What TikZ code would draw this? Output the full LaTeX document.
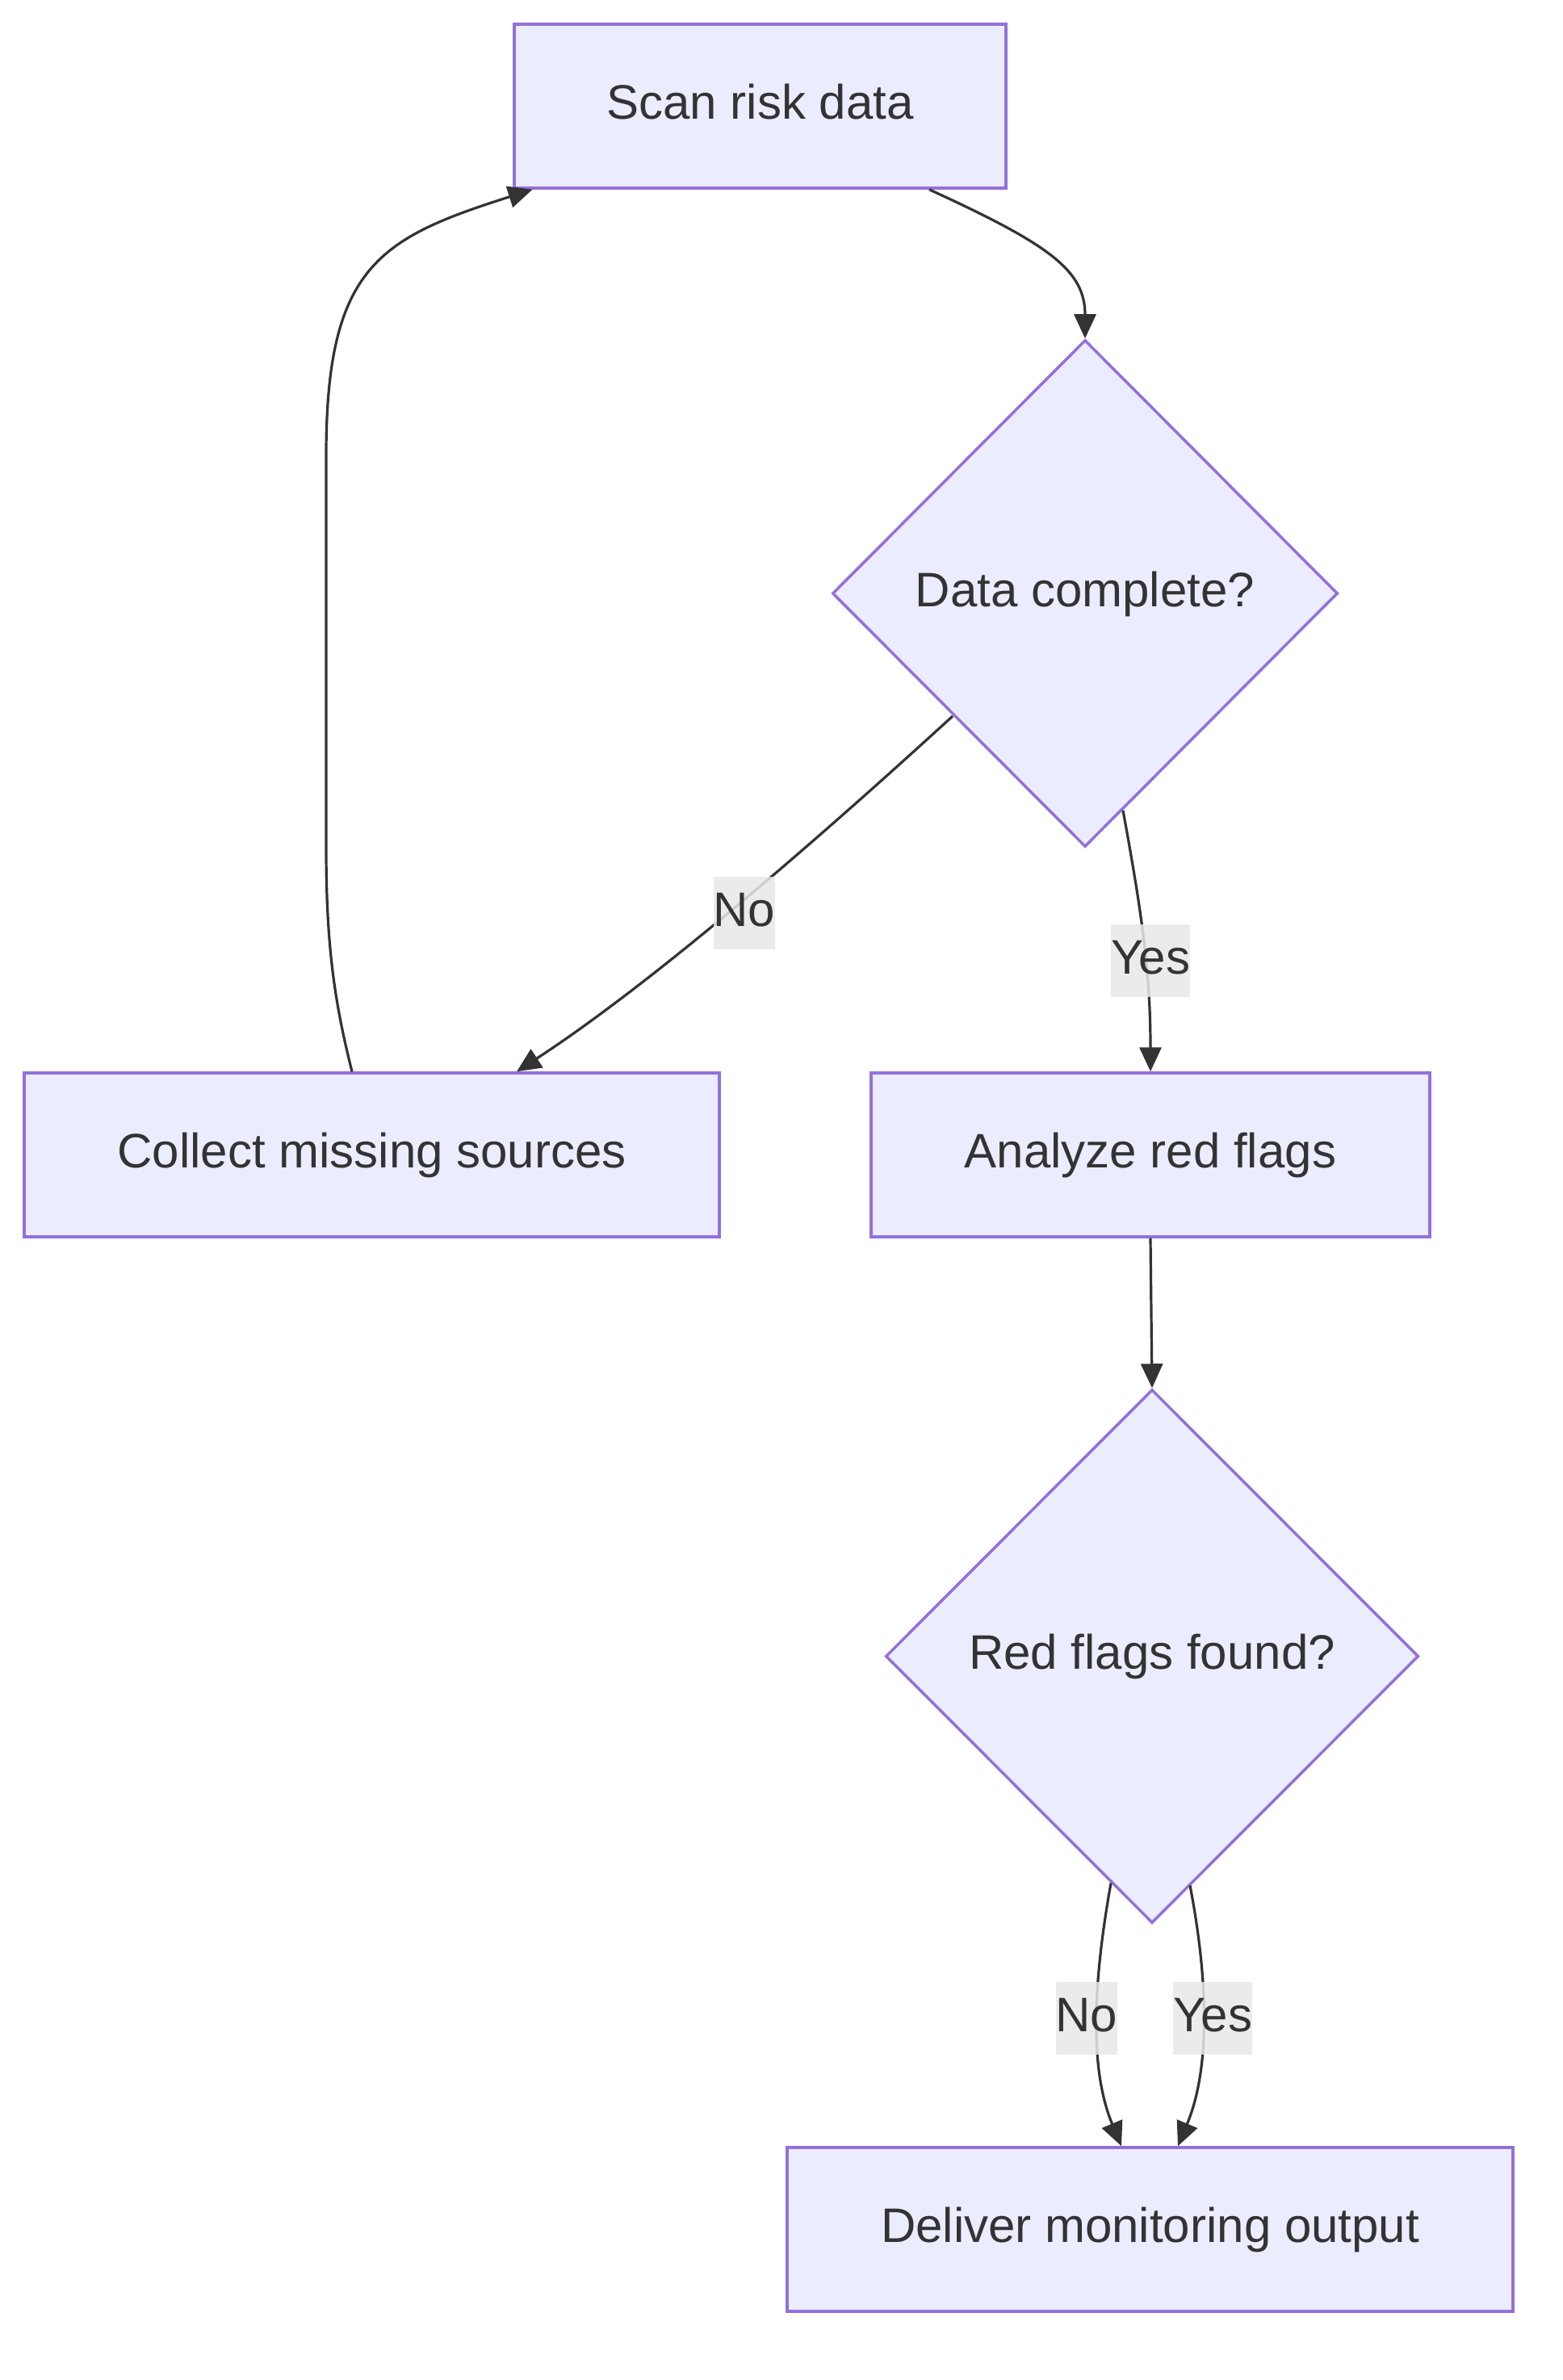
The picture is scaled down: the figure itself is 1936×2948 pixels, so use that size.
\documentclass[tikz,border=0pt]{standalone}
\usepackage{fontspec}
\setmainfont{Liberation Sans}
\usetikzlibrary{shapes.geometric,arrows.meta,calc}
\definecolor{nodefill}{HTML}{ECECFF}
\definecolor{nodeborder}{HTML}{9370DB}
\definecolor{inkgray}{HTML}{333333}
\definecolor{labelgray}{HTML}{E8E8E8}
\begin{document}
\begin{tikzpicture}[x=0.5pt,y=-0.5pt,
  every node/.style={font=\fontsize{30pt}{36pt}\selectfont, text=inkgray, text height=22.5pt, text depth=6.3pt},
  procbox/.style={draw=nodeborder, fill=nodefill, line width=1.75pt, rectangle, minimum height=101.5pt, inner sep=0pt},
  decision/.style={draw=nodeborder, fill=nodefill, line width=1.75pt, diamond, aspect=1, inner sep=0pt},
  edge/.style={draw=inkgray, line width=1.6pt, -{Triangle[length=15pt,width=13.5pt]}},
  edgelabel/.style={fill=labelgray, fill opacity=0.85, text opacity=1, inner xsep=0pt, inner ysep=0pt, minimum height=45pt}
]
\useasboundingbox (0,0) rectangle (1936,2948);

\node[procbox, minimum width=304.5pt] (scan) at (941.5,131.5) {Scan risk data};
\node[decision, minimum width=313pt, minimum height=314pt] (d1) at (1344,735) {Data complete?};
\node[procbox, minimum width=430.5pt] (collect) at (460.5,1430.5) {Collect missing sources};
\node[procbox, minimum width=346pt] (analyze) at (1425,1430.5) {Analyze red flags};
\node[decision, minimum width=330pt, minimum height=330.5pt] (d2) at (1427,2051.5) {Red flags found?};
\node[procbox, minimum width=449.5pt] (deliver) at (1424.5,2761.5) {Deliver monitoring output};

% Scan -> Data complete?
\draw[edge] ($(scan.south)+(209.5,0)$) .. controls (1300,303) and (1344,335) .. (d1.north);
% Data complete? -> Collect (No)
\draw[edge] ($(d1.center)+(-164,152)$) .. controls (1040,1015) and (820,1210) .. ($(collect.north)+(179.5,0)$);
% Data complete? -> Analyze (Yes)
\draw[edge] ($(d1.center)+(47,269)$) .. controls (1416,1140) and (1425,1210) .. (analyze.north);
% Collect -> Scan
\draw[edge] ($(collect.north)+(-24.5,0)$) .. controls (414,1240) and (404,1170) .. (404,1050)
  -- (404,564) .. controls (404,330) and (470,295) .. ($(scan.south)+(-282,0)$);
% Analyze -> Red flags found?
\draw[edge] (analyze.south) -- (d2.north);
% Red flags found? -> Deliver (No)
\draw[edge] ($(d2.center)+(-51,281)$) .. controls (1355,2450) and (1348,2560) .. ($(deliver.north)+(-35.5,0)$);
% Red flags found? -> Deliver (Yes)
\draw[edge] ($(d2.center)+(47,284)$) .. controls (1496,2450) and (1500,2560) .. ($(deliver.north)+(34.5,0)$);

\node[edgelabel] (lno1) at (922,1131) {No};
\node[edgelabel] (lyes1) at (1425,1190) {Yes};
\node[edgelabel] (lno2) at (1346,2500) {No};
\node[edgelabel] (lyes2) at (1502,2500) {Yes};
\end{tikzpicture}
\end{document}
